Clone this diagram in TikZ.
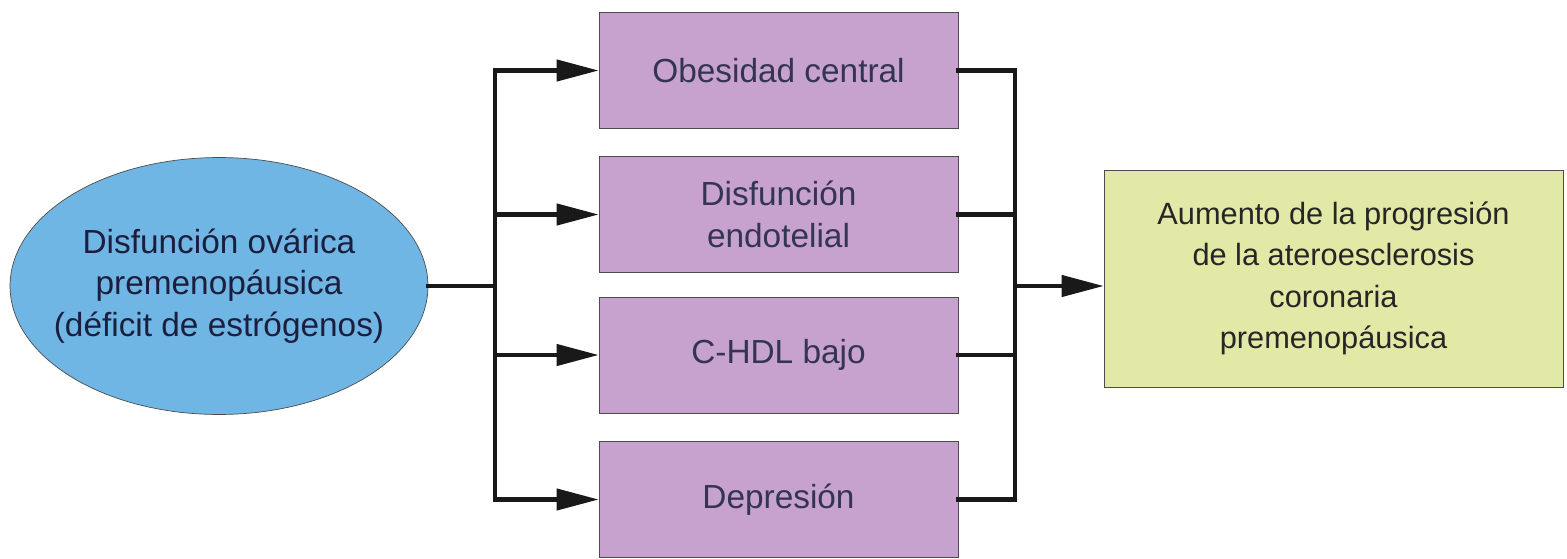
\documentclass[tikz,border=0pt]{standalone}
\usepackage{fontspec}
\setmainfont{Liberation Sans}
\usetikzlibrary{positioning,arrows.meta,shapes.geometric}

\definecolor{causablue}{RGB}{112,182,228}
\definecolor{causatext}{RGB}{28,30,62}
\definecolor{factorlila}{RGB}{200,162,206}
\definecolor{efectoverde}{RGB}{226,232,166}

\begin{document}
\begin{tikzpicture}[x=0.02cm, y=-0.02cm,
  % Node Styles
  causa/.style={ellipse, draw=black!70, fill=causablue, text=causatext, minimum width=8.36cm, minimum height=5.14cm, align=center, inner xsep=-0.5cm, inner ysep=0pt, font=\fontsize{19}{23.5}\selectfont},
  factor/.style={rectangle, draw=black!70, fill=factorlila, text=causatext!90, minimum width=7.18cm, minimum height=2.32cm, align=center, inner sep=0pt, font=\fontsize{19}{23.5}\selectfont},
  efecto/.style={rectangle, draw=black!70, fill=efectoverde, text=black!85, minimum width=9.18cm, minimum height=4.34cm, align=center, inner sep=0pt, font=\fontsize{17.5}{23.5}\selectfont},
  % Arrow Styles
  linea/.style={line width=2.4pt, black!90, line cap=rect},
  flecha/.style={linea, -{Triangle[length=0.84cm, width=0.42cm]}},
]
\useasboundingbox (0,0) rectangle (1567,558);

% Diagrama: deficit de estrogenos y aterosclerosis

\node[causa] (ovario) at (219,286) {Disfunción ovárica\\premenopáusica\\(déficit de estrógenos)};

\node[factor] (obesidad) at (778.5,70.5) {Obesidad central};
\node[factor] (endotelio) at (778.5,214.5) {Disfunción\\endotelial};
\node[factor] (hdl) at (778.5,355) {C-HDL bajo};
\node[factor] (depresion) at (778.5,499.5) {Depresión};

\node[efecto] (aterosclerosis) at (1333.5,278.5) {Aumento de la progresión\\de la ateroesclerosis\\coronaria\\premenopáusica};

\coordinate (derivL) at (495,286);
\coordinate (unionR) at (1015,286);

\draw[linea] (ovario) -- (derivL);
\draw[linea] (derivL |- obesidad) -- (derivL |- depresion);
\foreach \f in {obesidad,endotelio,hdl,depresion}
  \draw[flecha] (derivL |- \f) -- (\f.west);

\foreach \f in {obesidad,endotelio,hdl,depresion}
  \draw[linea] (\f.east) -- (unionR |- \f);
\draw[linea] (unionR |- obesidad) -- (unionR |- depresion);
\draw[flecha] (unionR) -- (unionR -| aterosclerosis.west);

\end{tikzpicture}
\end{document}
